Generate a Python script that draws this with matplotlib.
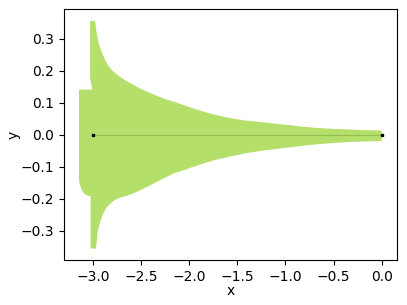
import matplotlib
matplotlib.use("Agg")
import matplotlib.pyplot as plt

# outline of the shaded band (upper edge left -> right)
upper_x = [-3.145, -3.007, -3.018, -3.030, -3.030, -2.979, -2.970, -2.962, -2.950,
           -2.938, -2.915, -2.893, -2.870, -2.842, -2.795, -2.738, -2.670, -2.600,
           -2.515, -2.428, -2.340, -2.255, -2.100, -1.928, -1.756, -1.583,
           -1.411, -1.239, -1.100, -0.963, -0.820, -0.670, -0.500, -0.325, -0.160, 0.0]
upper_y = [0.141, 0.141, 0.160, 0.175, 0.356, 0.356, 0.336, 0.319, 0.300,
           0.283, 0.264, 0.247, 0.231, 0.216, 0.199, 0.185, 0.171, 0.159,
           0.145, 0.133, 0.122, 0.112, 0.097, 0.079, 0.064, 0.052,
           0.044, 0.039, 0.034, 0.030, 0.025, 0.021, 0.018, 0.016, 0.014, 0.013]

# lower edge, left -> right
lower_x = [-3.145, -3.140, -3.130, -3.115, -3.100, -3.070, -3.031, -3.024, -3.024,
           -2.969, -2.960, -2.952, -2.935, -2.918, -2.890, -2.859, -2.825, -2.790,
           -2.755, -2.721, -2.680, -2.635, -2.570, -2.496, -2.410, -2.325, -2.240,
           -2.152, -2.100, -2.010, -1.928, -1.840, -1.756, -1.670, -1.583, -1.411,
           -1.239, -1.100, -0.963, -0.820, -0.670, -0.500, -0.325, -0.160, 0.0]
lower_y = [-0.141, -0.152, -0.162, -0.174, -0.181, -0.189, -0.193, -0.193, -0.356,
           -0.356, -0.330, -0.306, -0.284, -0.265, -0.245, -0.228, -0.217, -0.208,
           -0.202, -0.197, -0.194, -0.190, -0.182, -0.172, -0.159, -0.146, -0.133,
           -0.120, -0.1155, -0.106, -0.098, -0.089, -0.081, -0.075, -0.069, -0.058,
           -0.050, -0.045, -0.040, -0.035, -0.030, -0.026, -0.023, -0.021, -0.020]

# centre line
line_x = [-3.0, 0.0]
line_y = [0.0, 0.0]

fig, ax = plt.subplots(figsize=(4.07, 3.05), dpi=100)

poly_x = upper_x + lower_x[::-1]
poly_y = upper_y + lower_y[::-1]
ax.fill(poly_x, poly_y, color='#b5df6b', lw=0)

ax.plot(line_x, line_y, color='#95bd55', lw=0.8)
ax.plot(line_x, line_y, 's', color='k', ms=1.6, lw=0)

ax.set_xlabel('x', labelpad=0)
ax.set_ylabel('y', labelpad=0)

fig.subplots_adjust(left=0.157, right=0.975, bottom=0.148, top=0.969)
fig.savefig('out.png', dpi=100)
